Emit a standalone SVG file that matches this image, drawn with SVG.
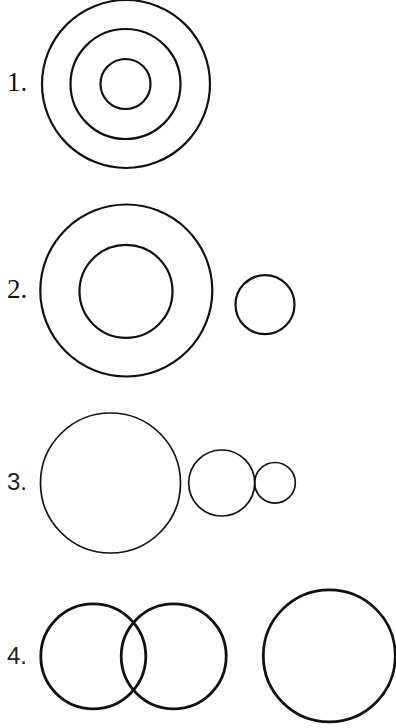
<svg xmlns="http://www.w3.org/2000/svg" width="396" height="728" viewBox="0 0 396 728">
<style>
.c{fill:none;stroke:#111}
.s{font-family:"Liberation Serif","Times New Roman",serif;font-size:27px;fill:#111}
.a{font-family:"Liberation Sans",Arial,sans-serif;font-size:24px;fill:#222}
</style>
<rect width="396" height="728" fill="#fff"/>
<g id="fig1">
<text class="s" x="7" y="91">1.</text>
<circle class="c" cx="126" cy="84" r="84" stroke-width="2.2"/>
<circle class="c" cx="125.5" cy="84" r="55" stroke-width="2.2"/>
<circle class="c" cx="125.5" cy="84" r="25" stroke-width="2.2"/>
</g>
<g id="fig2">
<text class="s" x="7" y="298">2.</text>
<circle class="c" cx="126.3" cy="290.5" r="86" stroke-width="2.2"/>
<circle class="c" cx="126" cy="291.3" r="46.5" stroke-width="2.2"/>
<circle class="c" cx="265" cy="304.7" r="29.5" stroke-width="2.2"/>
</g>
<g id="fig3">
<text class="a" x="7" y="490">3.</text>
<circle class="c" cx="110.5" cy="483" r="70" stroke-width="1.7"/>
<circle class="c" cx="221.7" cy="483" r="33" stroke-width="1.7"/>
<circle class="c" cx="275" cy="482.8" r="20.3" stroke-width="1.7"/>
</g>
<g id="fig4">
<text class="a" x="7" y="664">4.</text>
<circle class="c" cx="93.3" cy="656.3" r="52.5" stroke-width="2.8"/>
<circle class="c" cx="173.7" cy="656.3" r="52.5" stroke-width="2.8"/>
<circle class="c" cx="329.3" cy="655.8" r="66" stroke-width="2.8"/>
</g>
</svg>
